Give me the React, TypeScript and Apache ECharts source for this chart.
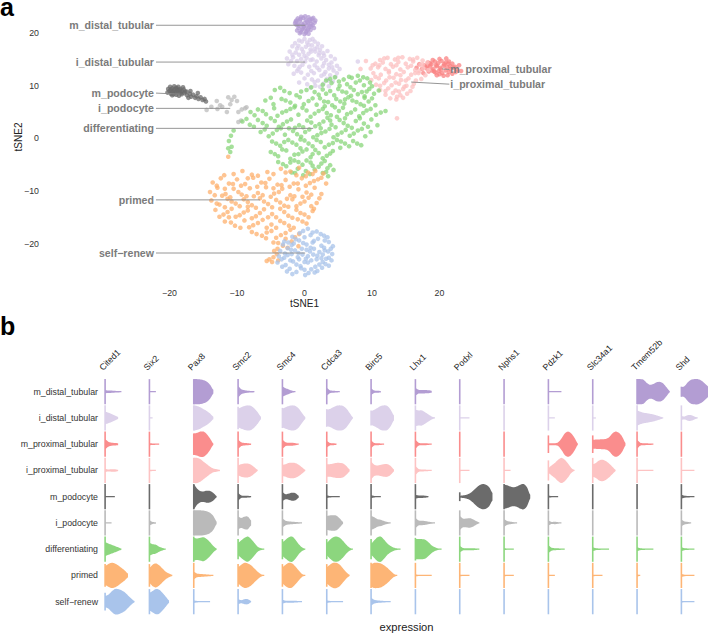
import React, { useEffect, useRef } from "react";
import * as echarts from "echarts";

const FONT = "Liberation Sans, Arial, Helvetica, sans-serif";

// ---------- Panel a: tSNE ----------
const CLUSTERS = ["m_distal_tubular", "i_distal_tubular", "m_proximal_tubular", "i_proximal_tubular", "m_podocyte", "i_podocyte", "differentiating", "primed", "self\u2212renew"];
const CLUSTER_COLORS = ["#b39bd4", "#dacde9", "#f98282", "#fcc0c0", "#6a6a6a", "#bcbcbc", "#88d67a", "#fdb06e", "#a8c3ea"];

const M_DISTAL_PTS = [[-1.0,22.8],[-0.5,23.1],[0.1,23.2],[0.6,23.0],[1.1,22.7],[-1.3,22.2],[-0.7,22.4],[0.2,22.5],[0.9,22.3],[1.5,22.0],[-1.2,21.6],[-0.4,21.8],[0.5,21.9],[1.2,21.5],[-0.9,21.0],[-0.1,21.2],[0.7,21.1],[1.4,21.0],[-1.1,20.5],[-0.4,20.6],[0.3,20.4],[0.9,20.6],[-0.7,20.0],[0.0,19.8],[0.6,19.9],[-0.2,22.9],[0.4,22.2],[-0.8,21.4],[1.0,21.8],[0.1,20.9],[-1.4,21.9],[1.6,22.4],[-0.5,20.2],[0.4,21.5],[-0.2,21.5],[-0.6,22.7],[0.8,22.6],[-1.0,21.8],[0.0,21.9],[0.9,21.3],[-0.3,20.9],[0.5,20.7],[-1.2,22.4],[1.3,22.9],[0.2,20.1]];
const I_DISTAL_PTS = [[-0.8,18.6],[0.0,18.9],[0.8,18.7],[1.5,18.4],[-1.4,18.1],[0.4,18.2],[2.0,18.0],[-1.8,17.5],[-0.9,17.6],[0.2,17.4],[1.1,17.7],[1.9,17.3],[2.6,17.5],[-0.4,17.0],[0.9,16.9],[2.3,16.8],[-2.2,16.5],[-1.3,16.3],[-0.2,16.4],[0.6,16.1],[1.6,16.5],[2.8,16.2],[3.4,16.6],[-0.8,15.9],[2.1,15.8],[3.9,15.6],[-2.6,15.2],[-1.7,15.4],[-0.5,15.1],[0.3,15.3],[1.2,15.0],[2.5,15.2],[3.2,14.9],[4.5,15.1],[-1.1,14.7],[1.8,14.6],[4.0,14.4],[-2.4,14.1],[-1.5,13.8],[-0.3,14.0],[0.7,13.6],[1.5,13.9],[2.7,13.7],[3.6,13.3],[4.8,13.8],[-0.9,13.2],[2.2,13.0],[3.1,12.6],[4.3,12.9],[5.2,13.2],[-1.6,12.3],[-0.5,12.5],[0.5,12.1],[1.4,12.4],[2.5,11.9],[3.8,12.0],[4.6,11.7],[0.0,11.4],[1.1,11.2],[2.0,11.0],[3.3,11.3],[4.2,10.8],[-0.8,10.6],[0.4,10.3],[1.6,10.0],[2.8,10.4],[0.9,9.6],[3.6,9.9],[7.9,14.6],[-0.4,18.4],[1.2,18.9],[-1.1,17.1],[0.6,17.8],[1.5,17.0],[2.2,16.2],[-1.8,15.9],[0.0,15.7],[1.0,16.5],[2.9,15.7],[-2.0,14.7],[0.1,14.6],[0.9,14.9],[2.9,14.3],[3.6,14.0],[-0.7,13.6],[1.9,13.4],[4.1,13.5],[-1.1,12.8],[1.0,12.8],[2.9,12.2],[3.5,11.0],[1.5,10.7],[2.3,9.8],[4.8,12.4]];
const M_PROXIMAL_PTS = [[17.8,13.9],[18.3,14.4],[18.8,14.1],[19.3,14.6],[19.8,14.3],[20.3,14.7],[20.9,14.4],[21.4,14.6],[21.9,14.2],[18.1,13.3],[18.6,13.6],[19.1,13.2],[19.6,13.7],[20.1,13.4],[20.6,13.8],[21.1,13.5],[21.6,13.7],[22.1,13.4],[22.6,13.1],[18.4,12.7],[18.9,12.9],[19.4,12.5],[19.9,12.8],[20.4,12.4],[20.9,12.9],[21.4,12.6],[21.9,12.3],[22.4,12.6],[19.6,12.0],[20.6,11.9],[21.2,12.0],[17.4,13.2],[17.0,14.1],[16.6,13.4],[20.0,15.1],[21.0,15.2],[22.9,13.9],[19.0,14.9],[23.2,12.8],[17.6,12.4],[18.6,14.3],[19.5,13.9],[20.7,14.1],[21.6,13.2],[19.2,12.7],[20.2,13.1],[21.3,14.2],[22.3,13.6],[20.0,12.2],[18.2,13.8]];
const I_PROXIMAL_PTS = [[11.2,14.9],[12.3,15.3],[13.4,15.0],[14.5,15.4],[15.6,15.1],[16.7,15.3],[17.5,14.8],[10.5,14.2],[11.6,14.4],[12.8,14.1],[13.9,14.5],[15.0,14.2],[16.1,14.6],[17.2,14.0],[18.2,14.4],[9.8,13.3],[10.9,13.5],[12.0,13.2],[13.1,13.6],[14.2,13.1],[15.3,13.5],[16.4,13.0],[17.6,13.3],[10.2,12.4],[11.3,12.1],[12.5,12.5],[13.6,12.2],[14.7,12.6],[15.8,12.1],[16.9,12.4],[17.9,12.0],[9.9,11.1],[11.0,11.4],[12.1,11.0],[13.2,11.5],[14.3,11.1],[15.4,11.4],[16.5,11.0],[17.3,11.3],[10.6,10.2],[11.8,10.5],[12.9,10.1],[14.0,10.4],[15.1,10.0],[16.2,10.4],[11.2,9.2],[12.4,9.5],[13.5,9.1],[14.6,9.4],[15.7,9.0],[12.0,8.3],[13.1,8.6],[14.2,8.2],[15.2,8.5],[13.6,7.4],[14.6,7.7],[12.7,7.6],[13.7,3.8],[9.1,14.7],[8.3,13.2],[16.0,9.8],[18.4,13.0],[17.0,12.8],[11.8,15.2],[13.9,15.3],[16.1,15.0],[11.1,13.9],[13.6,13.9],[15.8,13.8],[12.5,12.8],[14.2,12.0],[16.4,12.4],[10.5,11.7],[12.6,11.6],[15.0,11.0],[11.2,10.0],[13.5,10.6],[14.8,9.8],[12.0,9.0],[14.0,8.9],[13.7,7.9],[17.5,14.1],[10.1,13.9]];
const M_PODOCYTE_PTS = [[-20.2,9.4],[-19.9,9.8],[-19.6,9.5],[-19.3,9.9],[-19.0,9.6],[-18.7,9.8],[-18.4,9.4],[-20.0,9.0],[-19.7,8.9],[-19.4,9.1],[-19.1,8.8],[-18.8,9.1],[-18.5,8.7],[-18.2,9.0],[-17.9,9.3],[-19.8,8.5],[-19.4,8.4],[-19.0,8.3],[-18.6,8.1],[-18.2,8.4],[-17.8,8.6],[-17.5,8.9],[-17.4,8.2],[-17.0,8.5],[-16.8,7.9],[-16.5,8.3],[-16.2,7.7],[-16.0,8.0],[-15.7,7.5],[-15.4,7.8],[-15.1,7.3],[-14.8,7.5],[-16.9,9.0],[-18.9,9.4],[-19.6,8.2],[-17.2,7.7],[-15.8,8.6],[-14.6,7.0],[-20.3,8.7],[-18.0,9.7],[-19.8,9.3],[-19.2,9.3],[-18.5,9.2],[-19.5,8.7],[-18.9,8.7],[-18.3,8.6],[-17.7,8.9]];
const I_PODOCYTE_PTS = [[-14.5,5.4],[-13.8,6.0],[-13.0,7.1],[-12.5,6.3],[-12.2,6.0],[-11.5,5.0],[-11.3,7.8],[-11.0,6.5],[-10.8,7.3],[-10.0,7.1],[-10.4,7.9],[-9.8,5.0],[-9.3,5.5],[-8.6,5.9],[-8.8,5.7],[-9.8,3.1],[-9.4,3.4],[-12.9,5.6]];
const DIFFERENTIATING_PTS = [[3.2,11.0],[4.5,11.6],[5.8,11.2],[7.0,11.5],[8.2,11.0],[9.3,11.4],[2.7,10.2],[4.0,10.5],[6.3,10.3],[7.6,10.6],[8.8,10.1],[5.2,10.0],[-4.4,9.2],[-3.6,9.6],[-2.2,8.6],[0.3,9.2],[1.5,8.8],[2.7,9.3],[3.8,9.0],[5.0,9.4],[6.2,8.7],[7.3,9.2],[8.5,8.8],[9.6,9.4],[10.3,8.5],[-1.2,8.2],[4.4,8.2],[6.9,8.1],[8.9,8.0],[11.0,9.1],[-5.8,7.2],[-4.6,6.5],[-3.4,7.5],[-2.1,6.8],[-0.7,7.8],[0.6,7.1],[1.8,6.4],[2.3,7.6],[3.5,6.9],[4.7,7.5],[5.9,6.6],[7.1,7.2],[8.3,6.5],[9.5,7.0],[10.5,6.3],[-1.4,6.2],[3.0,6.1],[6.5,7.8],[8.9,7.7],[-8.0,5.0],[-6.9,5.5],[-5.7,4.6],[-4.5,5.7],[-3.3,4.9],[-2.1,5.6],[-0.9,4.5],[0.3,5.3],[1.5,4.7],[2.7,5.6],[3.9,4.4],[5.1,5.2],[6.3,4.6],[7.5,5.5],[8.7,4.8],[9.8,5.6],[10.6,4.5],[12.0,5.2],[-1.5,5.9],[4.5,5.9],[-9.2,3.2],[-8.1,2.6],[-6.9,3.5],[-5.6,2.4],[-4.4,3.3],[-3.2,2.7],[-2.0,3.6],[-0.8,2.5],[0.4,3.4],[1.6,2.3],[2.8,3.2],[4.0,2.6],[5.2,3.5],[6.4,2.4],[7.6,3.3],[8.8,2.8],[9.9,3.6],[10.8,2.5],[-1.4,2.0],[3.4,3.9],[6.0,3.8],[-10.5,1.5],[-6.5,1.2],[-5.3,0.4],[-4.1,1.6],[-2.9,0.7],[-1.7,1.4],[-0.5,0.3],[0.7,1.7],[1.9,0.6],[3.1,1.3],[4.3,0.2],[5.5,1.1],[6.7,0.5],[7.9,1.5],[9.0,0.4],[9.8,1.2],[-3.5,1.9],[2.4,1.9],[-11.2,-0.5],[-10.8,-1.6],[-4.8,-0.6],[-3.6,-1.4],[-2.4,-0.3],[-1.2,-1.2],[0.0,-0.4],[1.2,-1.5],[2.4,-0.7],[3.6,-1.2],[4.8,-0.3],[6.0,-1.0],[7.2,-0.5],[8.4,-1.3],[-0.6,-1.9],[5.3,-1.8],[-5.0,-2.6],[-3.9,-3.4],[-2.7,-2.3],[-1.5,-3.1],[-0.3,-2.5],[0.9,-3.6],[2.1,-2.8],[3.3,-3.3],[4.2,-2.4],[-2.1,-3.9],[1.6,-2.2],[-11.0,-2.6],[-3.9,-4.5],[-2.7,-5.3],[-1.5,-4.2],[-0.3,-5.0],[0.9,-4.6],[2.1,-5.4],[3.0,-4.3],[3.8,-5.1],[-1.0,-5.8],[1.5,-5.9],[4.3,-6.0],[-1.9,-6.5],[-0.2,-7.0],[2.7,-6.6],[3.5,-7.2],[0.8,-6.8],[3.8,11.3],[5.1,10.8],[6.6,11.7],[7.9,11.9],[8.7,11.6],[9.7,10.6],[-3.0,9.0],[-0.5,8.9],[1.0,9.7],[2.1,8.3],[3.2,8.5],[5.6,8.9],[6.8,9.7],[7.9,8.4],[9.2,8.9],[10.0,9.9],[-5.0,7.7],[-2.8,7.2],[-0.1,6.5],[1.2,7.6],[2.9,7.0],[4.1,6.3],[5.3,7.0],[6.0,7.4],[7.7,6.9],[8.8,6.2],[10.0,7.6],[-7.4,4.4],[-6.2,5.2],[-4.0,4.3],[-2.7,5.2],[-0.3,5.8],[0.9,4.1],[2.1,5.2],[3.3,4.8],[4.8,4.1],[5.7,5.8],[6.9,4.9],[8.1,4.2],[9.2,5.3],[11.3,4.9],[-8.6,3.7],[-7.5,2.2],[-6.2,2.9],[-5.0,3.8],[-3.8,2.2],[-2.6,3.2],[-0.2,2.1],[1.0,3.0],[2.2,2.7],[3.8,3.4],[4.6,2.1],[5.8,2.9],[7.0,2.0],[8.2,3.8],[9.4,2.2],[-5.9,1.7],[-4.7,0.9],[-2.3,1.9],[-1.1,0.8],[0.1,1.2],[1.3,0.2],[2.5,1.0],[3.7,1.8],[4.9,0.7],[6.1,1.6],[7.3,0.9],[8.5,1.8],[-10.9,0.5],[-4.2,-1.0],[-3.0,-0.7],[-1.8,-0.8],[-0.6,-0.2],[0.6,-1.0],[1.8,-0.3],[3.0,-1.7],[4.2,-0.9],[5.4,-0.6],[6.6,-1.5],[7.8,-1.0],[-4.4,-3.0],[-3.3,-2.1],[-0.9,-3.0],[0.3,-2.1],[1.2,-3.0],[2.7,-3.8],[3.8,-2.9],[-11.3,-1.9],[-3.2,-4.9],[-2.1,-4.6],[-0.9,-4.5],[0.3,-4.2],[1.2,-5.2],[2.5,-4.8],[3.4,-5.7],[-1.4,-6.6],[0.2,-6.2],[3.2,-6.4]];
const PRIMED_PTS = [[-10.5,-6.8],[-9.2,-6.2],[-7.8,-6.9],[-3.5,-5.8],[-2.1,-6.3],[-0.8,-5.6],[0.5,-6.5],[1.6,-6.2],[2.8,-6.7],[-5.5,-6.4],[-11.3,-3.5],[-13.6,-8.4],[-12.4,-7.6],[-11.2,-8.6],[-10.0,-7.8],[-8.8,-8.7],[-7.6,-7.5],[-6.4,-8.4],[-5.2,-7.7],[-4.0,-8.8],[-2.8,-7.9],[-1.6,-8.6],[-0.4,-7.6],[0.8,-8.5],[2.0,-7.8],[3.2,-8.6],[-9.4,-9.0],[-3.4,-8.9],[-14.0,-10.2],[-12.9,-9.4],[-11.7,-10.6],[-10.5,-9.6],[-9.3,-10.7],[-8.1,-9.5],[-6.9,-10.4],[-5.7,-9.3],[-4.5,-10.5],[-3.3,-9.6],[-2.1,-10.8],[-0.9,-9.7],[0.3,-10.3],[1.5,-9.4],[2.5,-10.6],[-7.5,-11.0],[-1.5,-11.0],[-12.2,-10.9],[-13.8,-11.8],[-12.6,-12.6],[-11.4,-11.5],[-10.2,-12.4],[-9.0,-11.6],[-7.8,-12.7],[-6.6,-11.4],[-5.4,-12.5],[-4.2,-11.7],[-3.0,-12.8],[-1.8,-11.6],[-0.6,-12.4],[0.6,-11.3],[1.8,-12.3],[-8.4,-13.0],[-2.4,-13.0],[1.0,-12.9],[-13.2,-13.6],[-12.0,-14.5],[-10.8,-13.4],[-9.6,-14.6],[-8.4,-13.7],[-7.2,-14.8],[-6.0,-13.5],[-4.8,-14.4],[-3.6,-13.4],[-2.4,-14.7],[-1.2,-13.6],[0.0,-14.5],[1.2,-13.8],[-5.4,-15.0],[-11.2,-15.0],[-11.8,-15.8],[-10.3,-16.6],[-8.9,-15.6],[-7.6,-16.5],[-6.2,-15.5],[-4.9,-16.4],[-3.6,-15.7],[-2.3,-16.6],[-1.0,-15.4],[0.3,-16.2],[-9.5,-17.0],[-5.6,-17.0],[-7.8,-17.8],[-6.3,-18.5],[-4.9,-17.6],[-3.5,-18.4],[-2.1,-17.4],[-0.8,-18.2],[-5.7,-19.0],[-2.8,-19.1],[-4.6,-19.8],[-3.2,-20.4],[-1.9,-19.6],[-4.0,-21.0],[-0.9,-20.5],[-4.1,-22.0],[-4.6,-22.6],[-5.2,-23.0],[-5.6,-23.3],[-4.8,-23.5],[-3.9,-23.2],[-11.9,-7.0],[-8.4,-7.6],[-6.9,-7.1],[-4.6,-6.8],[-2.8,-6.5],[-1.2,-7.0],[0.2,-7.2],[1.2,-6.8],[2.5,-7.5],[-13.0,-9.0],[-11.8,-9.6],[-10.6,-8.7],[-7.0,-9.2],[-5.8,-8.5],[-4.6,-9.5],[-2.2,-9.2],[-1.0,-8.6],[0.2,-9.0],[1.4,-8.1],[-13.3,-10.8],[-11.0,-11.2],[-9.8,-10.2],[-8.6,-11.0],[-6.2,-10.8],[-5.0,-11.1],[-3.8,-10.2],[-2.6,-11.5],[-0.3,-11.1],[1.0,-10.7],[2.2,-11.4],[-13.0,-12.4],[-11.8,-13.1],[-10.8,-12.0],[-9.6,-12.9],[-8.4,-12.1],[-7.2,-13.2],[-6.0,-12.0],[-4.8,-13.1],[-3.6,-12.2],[-1.2,-12.9],[0.0,-12.0],[1.4,-13.4],[-12.6,-14.9],[-11.4,-14.0],[-10.2,-14.9],[-9.0,-14.1],[-7.8,-15.2],[-6.6,-14.2],[-4.2,-15.0],[-3.0,-14.0],[-1.8,-15.1],[-0.6,-14.2],[0.6,-15.0],[-10.9,-16.0],[-8.2,-16.9],[-6.9,-16.1],[-4.2,-17.0],[-3.0,-16.1],[-1.6,-17.0],[-0.3,-15.8],[-7.1,-18.2],[-5.6,-17.9],[-4.2,-18.9],[-2.8,-18.0],[-1.4,-18.8],[-3.9,-19.9],[-2.5,-20.8],[-4.5,-21.4]];
const SELF_RENEW_PTS = [[0.5,-17.2],[1.8,-17.7],[-0.7,-18.0],[0.9,-18.4],[2.4,-18.2],[3.4,-18.8],[-1.8,-18.7],[-3.0,-19.6],[-1.9,-20.3],[-0.8,-19.4],[0.3,-20.2],[1.4,-19.5],[2.5,-20.4],[3.6,-19.7],[4.2,-20.5],[-2.5,-20.9],[0.9,-20.8],[-0.2,-19.9],[2.0,-19.1],[-3.6,-21.4],[-2.5,-22.2],[-1.4,-21.3],[-0.3,-22.1],[0.8,-21.5],[1.9,-22.3],[3.0,-21.3],[4.1,-22.0],[-3.0,-22.7],[0.2,-22.9],[2.5,-22.8],[-1.0,-22.6],[1.4,-21.0],[3.6,-22.7],[-4.0,-23.6],[-2.8,-24.1],[-1.7,-23.4],[-0.6,-24.3],[0.5,-23.6],[1.6,-24.4],[2.7,-23.5],[3.6,-24.2],[-2.2,-24.8],[0.0,-25.0],[1.0,-24.9],[-3.4,-23.0],[-1.2,-25.4],[0.6,-25.6],[-2.6,-25.3],[1.9,-25.2],[-1.6,-20.0],[-0.4,-21.0],[0.5,-22.4],[1.8,-23.0],[3.1,-23.9],[-1.9,-22.0],[2.9,-20.8],[-0.8,-23.0],[1.2,-19.8],[2.2,-21.6],[-0.2,-17.6],[1.2,-17.9],[2.9,-18.5],[-1.3,-19.2],[0.0,-18.8],[3.0,-19.4],[3.9,-21.0],[-3.2,-20.2],[-2.9,-21.9],[-2.0,-21.2],[-0.9,-21.8],[0.3,-21.2],[1.3,-22.1],[2.7,-22.1],[3.5,-21.5],[-3.8,-22.4],[-2.1,-23.2],[-1.2,-24.0],[0.0,-23.5],[1.0,-23.2],[2.2,-24.0],[3.2,-22.9],[-3.3,-24.4],[-0.5,-24.7],[1.5,-25.5],[2.6,-24.6],[-1.8,-25.8],[0.1,-26.0],[4.0,-23.2],[-2.4,-19.8]];
const CLUSTER_POINTS = [M_DISTAL_PTS, I_DISTAL_PTS, M_PROXIMAL_PTS, I_PROXIMAL_PTS, M_PODOCYTE_PTS, I_PODOCYTE_PTS, DIFFERENTIATING_PTS, PRIMED_PTS, SELF_RENEW_PTS];

const LABEL_NAMES_A = ["m_distal_tubular", "i_distal_tubular", "m_podocyte", "i_podocyte", "differentiating", "primed", "self\u2212renew", "m_proximal_tubular", "i_proximal_tubular"];
const LABEL_TEXT_X = [-22.3, -22.3, -22.3, -22.3, -22.3, -22.3, -22.3, 21.6, 21.6];
const LABEL_TEXT_Y = [21.5, 14.5, 8.6, 5.7, 1.9, -11.7, -21.8, 13.1, 10.3];
const LABEL_END_X = [0.1, 0.1, -18.4, -11.0, 1.3, -6.6, 0.1, 20.4, 15.8];
const LABEL_END_Y = [21.5, 14.5, 8.4, 5.7, 1.9, -11.7, -21.8, 13.2, 10.7];
const LABEL_SIDE = ["left", "left", "left", "left", "left", "left", "left", "right", "right"];

// ---------- Panel b: violins ----------
const GENES = ["Cited1", "Six2", "Pax8", "Smc2", "Smc4", "Cdca3", "Birc5", "Lhx1", "Podxl", "Nphs1", "Pdzk1", "Slc34a1", "Tmem52b", "Shd"];
const CELL_TYPES = ["m_distal_tubular", "i_distal_tubular", "m_proximal_tubular", "i_proximal_tubular", "m_podocyte", "i_podocyte", "differentiating", "primed", "self\u2212renew"];
const VIOLIN_COLORS = ["#b39dd3", "#dcd1ea", "#fa8d8d", "#fdc3c3", "#6b6b6b", "#bababa", "#8cd67e", "#fdb576", "#a9c4eb"];

// each profile: [spike height, width at expression step 0, 1, 2, ...] (fractions of row half-height)
const CITED1 = [[1,0.12,0.1,0.09,0.07,0.06,0.04],[1,0.5,0.42,0.32,0.2,0.08],[1,0.4,0.2,0.12,0.1,0.08],[1,0.12,0.08,0.1,0.1,0.05],[1,0.05,0.04,0.04,0.03],[1,0.05,0.04,0.03],[1,0.55,0.45,0.35,0.25,0.15,0.05],[0.9,0.75,0.9,1,0.95,0.8,0.6,0.4,0.15],[0.7,0.45,0.55,0.8,1,1,0.9,0.75,0.5,0.25,0.05]];
const SIX2 = [[1,0.05,0.05,0.04],[1,0.05,0.04],[1,0.08,0.06,0.05,0.04],[1,0.06,0.05,0.04],[1],[1,0.2,0.08,0.06],[1,0.5,0.4,0.35,0.2,0.1,0.03],[0.9,0.6,0.85,0.95,0.8,0.55,0.3,0.15,0.05],[1,0.7,0.85,1,0.95,0.7,0.4,0.1]];
const PAX8 = [[1,1,1,0.98,0.92,0.8,0.55,0.15],[1,1,0.95,0.85,0.7,0.55,0.35,0.1],[0.85,0.85,0.9,1,1,0.8,0.45,0.05],[1,1,1,0.9,0.7,0.5,0.3,0.15,0.1,0.05],[1,1,0.65,0.45,0.42,0.48,0.45,0.3,0.05],[1,1,1,1,0.98,0.92,0.8,0.55,0.1],[1,0.9,0.85,0.9,0.95,0.8,0.55,0.25,0.05],[1,0.3,0.15,0.12,0.1,0.08,0.06,0.03],[1,0.1,0.06,0.05,0.05,0.04,0.03]];
const SMC2 = [[1,0.45,0.2,0.12,0.08,0.06,0.05],[0.9,0.75,0.85,0.95,1,0.95,0.75,0.45,0.1],[1,0.35,0.15,0.1,0.08,0.05],[1,0.4,0.5,0.55,0.55,0.45,0.25,0.05],[1,0.3,0.1,0.08,0.07,0.05],[1,0.5,0.4,0.5,0.5,0.2],[0.8,0.5,0.7,0.9,1,0.8,0.5,0.2,0.08,0.04],[0.9,0.65,0.85,1,0.95,0.8,0.55,0.3,0.1,0.03],[1,0.2,0.12,0.2,0.2,0.05]];
const SMC4 = [[1,0.4,0.28,0.18,0.08,0.04],[0.8,0.75,0.85,0.95,1,0.95,0.75,0.4,0.08],[1,0.35,0.15,0.12,0.12,0.08,0.04],[1,0.45,0.5,0.6,0.62,0.58,0.45,0.25,0.05],[1,0.35,0.2,0.25,0.32,0.28,0.08],[1,0.35,0.18,0.12,0.1,0.08,0.06,0.03],[0.8,0.55,0.75,0.95,1,0.75,0.4,0.15,0.03],[0.9,0.65,0.85,1,0.95,0.7,0.4,0.12,0.03],[1,0.15,0.08,0.08,0.08,0.07,0.05,0.03]];
const CDCA3 = [[1,0.3,0.12,0.08,0.06,0.04],[0.7,0.65,0.72,0.85,0.97,1,0.95,0.75,0.4,0.05],[1,0.25,0.1,0.08,0.05],[1,0.5,0.5,0.55,0.6,0.6,0.55,0.35,0.08],[1,0.1,0.06,0.05,0.04,0.03],[1,0.55,0.6,0.62,0.58,0.35,0.08],[0.8,0.5,0.75,0.95,1,0.9,0.65,0.35,0.12,0.03],[0.9,0.65,0.85,1,1,0.85,0.55,0.25,0.05],[1,0.1,0.06,0.05,0.05,0.04,0.03]];
const BIRC5 = [[1,0.25,0.1,0.08,0.06],[0.6,0.55,0.65,0.8,0.95,1,0.95,0.65,0.2],[1,0.3,0.1,0.08,0.06,0.04],[1,0.7,0.45,0.4,0.45,0.5,0.5,0.35,0.08],[1,0.12,0.06,0.05,0.04],[1,0.55,0.45,0.3,0.25,0.15,0.08,0.04],[0.8,0.45,0.7,0.95,1,0.75,0.45,0.25,0.12,0.06,0.03],[1,0.9,1,1,0.95,0.8,0.6,0.35,0.12,0.03],[1,0.3,0.15,0.1,0.08,0.06,0.05,0.03]];
const LHX1 = [[1,0.3,0.15,0.14,0.13,0.12,0.08],[1,0.65,0.6,0.6,0.45,0.28,0.12,0.04],[1,0.35,0.12,0.08,0.08,0.06,0.04],[1,0.35,0.12,0.08,0.07,0.05,0.03],[1,0.15,0.1,0.1,0.08,0.05],[1,0.4,0.2,0.18,0.15,0.1,0.06,0.03],[0.9,0.8,0.8,0.8,0.75,0.55,0.3,0.15,0.06,0.03],[1,0.08,0.05,0.05,0.04,0.04,0.03],[1]];
const PODXL = [[1],[1,0.05,0.04,0.03,0.03],[1],[1,0.06,0.04,0.04,0.03],[0.35,0.08,0.1,0.15,0.25,0.45,0.7,0.9,1,0.95,0.75,0.3],[1,0.55,0.35,0.35,0.38,0.3,0.15,0.04],[1,0.25,0.1,0.08,0.08,0.08,0.06,0.03],[1,0.06,0.05,0.04,0.03],[1]];
const NPHS1 = [[1],[1],[1],[1,0.05,0.04,0.03],[1,0.95,0.9,0.8,0.75,0.82,0.95,1,0.75,0.15],[1,0.3,0.15,0.1,0.06,0.03],[1,0.08,0.05,0.04,0.03],[1,0.06,0.05,0.04,0.03],[1]];
const PDZK1 = [[1,0.05,0.04,0.04,0.04,0.03],[1,0.05,0.04,0.03],[0.7,0.08,0.08,0.08,0.15,0.45,0.85,1,0.85,0.5,0.05],[0.8,0.2,0.4,0.6,0.85,1,0.85,0.55,0.2,0.03],[1,0.08,0.05,0.04,0.03],[1,0.2,0.08,0.1,0.06,0.03],[1,0.3,0.12,0.08,0.07,0.05,0.03],[1,0.06,0.04,0.03],[1]];
const SLC34A1 = [[1],[1,0.04,0.03],[0.7,0.35,0.37,0.38,0.4,0.42,0.55,0.85,1,0.9,0.6,0.1],[1,0.5,0.6,0.8,0.85,0.75,0.55,0.3,0.05],[1],[1],[1,0.15,0.08,0.06,0.05,0.04,0.03],[1,0.06,0.05,0.04,0.03],[1]];
const TMEM52B = [[1,1,1,0.95,0.7,0.55,0.62,0.75,0.78,0.65,0.35,0.05],[1,0.6,0.5,0.42,0.38,0.33,0.28,0.2,0.12,0.04],[1,0.35,0.12,0.08,0.07,0.06,0.04],[1,0.06,0.05,0.05,0.04,0.04,0.03],[1],[1],[1,0.15,0.08,0.06,0.05,0.04,0.03],[1,0.08,0.04],[1]];
const SHD = [[0.4,0.37,0.45,0.75,0.95,1,1,0.9,0.7,0.45,0.15],[1,0.15,0.12,0.22,0.22,0.12,0.03],[1],[1,0.05,0.04,0.04,0.03,0.03],[1,0.15,0.08,0.06,0.05,0.04],[1,0.25,0.12,0.08,0.04],[1,0.15,0.08,0.06,0.04,0.03],[1,0.12,0.06,0.05,0.04,0.03],[1,0.06,0.05,0.04,0.04,0.03]];
const VIOLINS = [CITED1, SIX2, PAX8, SMC2, SMC4, CDCA3, BIRC5, LHX1, PODXL, NPHS1, PDZK1, SLC34A1, TMEM52B, SHD];

// layout constants
const COLW = 13.5; // expression steps per gene column
const COLPX = 44.33;
const B_LEFT = 105;
const B_TOP = 378.6;
const B_WIDTH = 603;
const XMAX_B = (B_WIDTH / COLPX) * COLW;

function smoothProfile(h: number[]): number[][] {
  const n = h.length;
  const out: number[][] = [];
  for (let i = 0; i < n - 1; i++) {
    const p0 = h[Math.max(i - 1, 0)], p1 = h[i], p2 = h[i + 1], p3 = h[Math.min(i + 2, n - 1)];
    for (let j = 0; j < 6; j++) {
      const t = j / 6, t2 = t * t, t3 = t2 * t;
      const v = 0.5 * (2 * p1 + (-p0 + p2) * t + (2 * p0 - 5 * p1 + 4 * p2 - p3) * t2 + (-p0 + 3 * p1 - 3 * p2 + p3) * t3);
      out.push([i + t, Math.min(1.02, Math.max(0, v))]);
    }
  }
  out.push([n - 1, h[n - 1]]);
  return out;
}

function fmtTick(v: number) {
  if (Math.abs(v) > 20.001 || Math.abs(v % 10) > 0.001) return "";
  return v < 0 ? "\u2212" + Math.abs(v) : String(v);
}

export default function App() {
  const ref = useRef<HTMLDivElement>(null);
  useEffect(() => {
    if (!ref.current) return;
    const chart = echarts.init(ref.current, undefined, { renderer: "svg" });

    const scatterSeries = CLUSTERS.map((name, i) => ({
      type: "scatter",
      name,
      xAxisIndex: 0,
      yAxisIndex: 0,
      data: CLUSTER_POINTS[i],
      symbolSize: 4.6,
      itemStyle: { color: CLUSTER_COLORS[i], opacity: 0.75 },
      silent: true,
      z: 2,
    }));

    const labelData = LABEL_NAMES_A.map((_, i) => [LABEL_END_X[i], LABEL_END_Y[i], LABEL_TEXT_X[i], LABEL_TEXT_Y[i], i]);

    const violinData: number[][] = [];
    GENES.forEach((_, c) => {
      CELL_TYPES.forEach((__, r) => violinData.push([c * COLW, r, c]));
    });
    const geneLabelData = GENES.map((_, c) => [c * COLW, 0, c]);

    const option: any = {
      animation: false,
      backgroundColor: "#ffffff",
      textStyle: { fontFamily: FONT },
      grid: [
        { left: 47, top: 10, width: 6.75 * 76.3, height: 5.26 * 51.4 },
        { left: B_LEFT, top: B_TOP, width: B_WIDTH, height: 236.2 },
      ],
      xAxis: [
        {
          gridIndex: 0, type: "value", min: -38.15, max: 38.15, minInterval: 10, maxInterval: 10,
          axisLine: { show: false }, axisTick: { show: false }, splitLine: { show: false },
          axisLabel: { formatter: fmtTick, fontSize: 8.8, color: "#333", margin: 8, showMinLabel: false, showMaxLabel: false, fontFamily: FONT },
          name: "tSNE1", nameLocation: "middle", nameGap: 18,
          nameTextStyle: { fontSize: 10, color: "#222", fontFamily: FONT },
        },
        {
          gridIndex: 1, type: "value", min: 0, max: XMAX_B,
          axisLine: { show: false }, axisTick: { show: false }, splitLine: { show: false }, axisLabel: { show: false },
          name: "expression", nameLocation: "middle", nameGap: 7,
          nameTextStyle: { fontSize: 11.2, color: "#222", fontFamily: FONT, verticalAlign: "top" },
        },
      ],
      yAxis: [
        {
          gridIndex: 0, type: "value", min: -27, max: 24.4, minInterval: 10, maxInterval: 10,
          axisLine: { show: false }, axisTick: { show: false }, splitLine: { show: false },
          axisLabel: { formatter: fmtTick, fontSize: 8.8, color: "#333", margin: 8, showMinLabel: false, showMaxLabel: false, fontFamily: FONT },
        },
        {
          gridIndex: 1, type: "category", data: CELL_TYPES, inverse: true,
          axisLine: { show: false }, axisTick: { show: false }, splitLine: { show: false },
          axisLabel: { fontSize: 8.8, color: "#333", margin: 7, fontFamily: FONT },
        },
      ],
      graphic: [
        { type: "text", left: 0, top: -6, style: { text: "a", fontSize: 25, fontWeight: "bold", fill: "#000", fontFamily: FONT } },
        { type: "text", left: 0, top: 313, style: { text: "b", fontSize: 25, fontWeight: "bold", fill: "#000", fontFamily: FONT } },
        { type: "text", x: 18, y: 137, rotation: Math.PI / 2, style: { text: "tSNE2", fontSize: 10, fill: "#222", fontFamily: FONT, align: "center", verticalAlign: "middle", textAlign: "center", textVerticalAlign: "middle" } },
      ],
      series: [
        ...scatterSeries,
        {
          type: "custom",
          xAxisIndex: 0,
          yAxisIndex: 0,
          data: labelData,
          silent: true,
          z: 5,
          renderItem: (params: any, api: any) => {
            const i = api.value(4);
            const end = api.coord([api.value(0), api.value(1)]);
            const tp = api.coord([api.value(2), api.value(3)]);
            const left = LABEL_SIDE[i] === "left";
            const sx = left ? tp[0] + 2 : tp[0] - 1;
            return {
              type: "group",
              children: [
                { type: "line", shape: { x1: sx, y1: tp[1], x2: end[0], y2: end[1] }, style: { stroke: "#8a8a8a", lineWidth: 0.9 } },
                {
                  type: "text", x: tp[0], y: tp[1],
                  style: {
                    text: LABEL_NAMES_A[i], fontSize: 10.6, fontWeight: "bold", fill: "#7b7b7b", fontFamily: FONT,
                    align: left ? "right" : "left", textAlign: left ? "right" : "left",
                    verticalAlign: "middle", textVerticalAlign: "middle",
                  },
                },
              ],
            };
          },
        },
        {
          type: "custom",
          xAxisIndex: 1,
          yAxisIndex: 1,
          data: violinData,
          encode: { x: 0, y: 1 },
          silent: true,
          clip: false,
          renderItem: (params: any, api: any) => {
            const col = api.value(2);
            const row = api.value(1);
            const prof = VIOLINS[col][row];
            const base = api.coord([api.value(0), row]);
            const step = api.size([1, 0])[0];
            const H = api.size([0, 1])[1] * 0.48;
            const color = VIOLIN_COLORS[row];
            const s = prof[0];
            const hs = prof.slice(1);
            const children: any[] = [];
            if (hs.length >= 2) {
              const pts = smoothProfile(hs);
              const top = pts.map(([t, h]) => [base[0] + t * step, base[1] - Math.max(h * H, 0.6)]);
              const bot = pts.slice().reverse().map(([t, h]) => [base[0] + t * step, base[1] + Math.max(h * H, 0.6)]);
              children.push({ type: "polygon", shape: { points: top.concat(bot) }, style: { fill: color } });
            }
            children.push({ type: "rect", shape: { x: base[0] - 0.7, y: base[1] - s * H, width: 1.6, height: 2 * s * H }, style: { fill: color } });
            return { type: "group", children };
          },
        },
        {
          type: "custom",
          xAxisIndex: 1,
          yAxisIndex: 1,
          data: geneLabelData,
          encode: { x: 0, y: 1 },
          silent: true,
          clip: false,
          renderItem: (params: any, api: any) => {
            const c = api.value(2);
            const base = api.coord([api.value(0), 0]);
            const band = api.size([0, 1])[1];
            return {
              type: "text",
              x: base[0] - 1,
              y: base[1] - band / 2 - 6.5,
              rotation: Math.PI / 4,
              style: {
                text: GENES[c], fontSize: 8.8, fill: "#222", fontFamily: FONT,
                align: "left", textAlign: "left", verticalAlign: "bottom", textVerticalAlign: "bottom",
              },
            };
          },
        },
      ],
    };
    chart.setOption(option);
    return () => chart.dispose();
  }, []);
  return <div ref={ref} style={{ position: "fixed", left: 0, top: 0, width: 708, height: 636 }} />;
}
